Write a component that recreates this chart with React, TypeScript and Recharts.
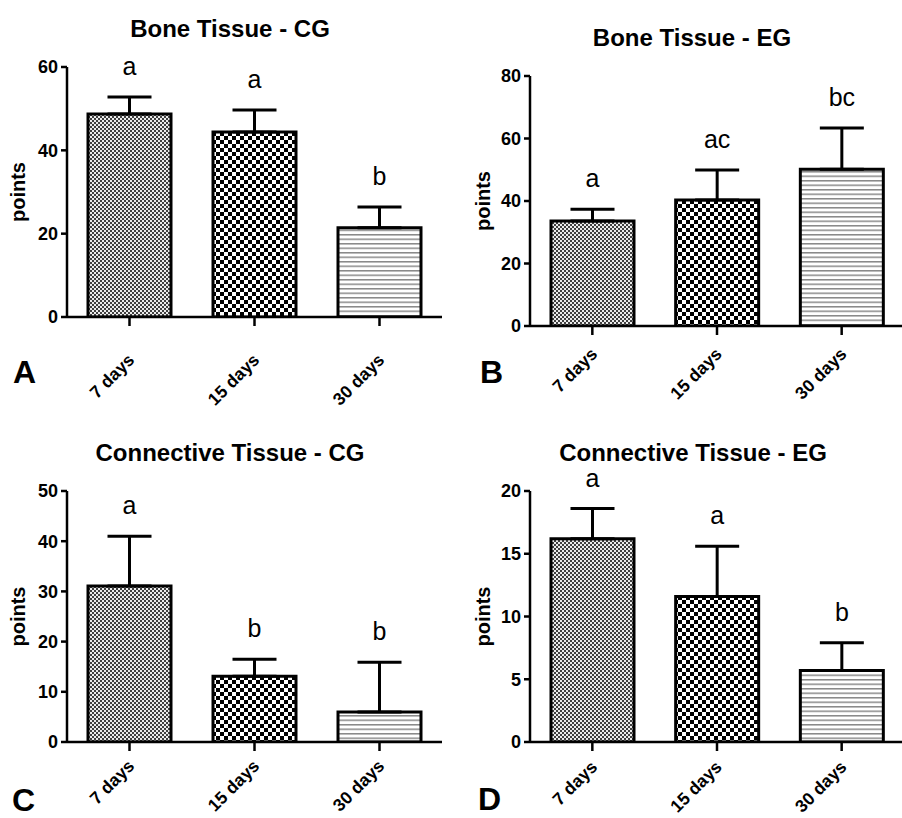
import React from 'react';
import { BarChart, Bar, XAxis, YAxis, ErrorBar, Cell, LabelList } from 'recharts';

const days = ['7 days', '15 days', '30 days'];

const boneCgMean = [48.7, 44.4, 21.4];
const boneCgSd = [4.1, 5.3, 5.0];
const boneCgLetters = ['a', 'a', 'b'];
const boneCgTicks = [0, 20, 40, 60];

const boneEgMean = [33.6, 40.3, 50.2];
const boneEgSd = [3.8, 9.6, 13.2];
const boneEgLetters = ['a', 'ac', 'bc'];
const boneEgTicks = [0, 20, 40, 60, 80];

const connCgMean = [31.1, 13.1, 6.0];
const connCgSd = [9.9, 3.4, 9.9];
const connCgLetters = ['a', 'b', 'b'];
const connCgTicks = [0, 10, 20, 30, 40, 50];

const connEgMean = [16.2, 11.6, 5.7];
const connEgSd = [2.4, 4.0, 2.2];
const connEgLetters = ['a', 'a', 'b'];
const connEgTicks = [0, 5, 10, 15, 20];

const FONT = '"Liberation Sans", Arial, Helvetica, sans-serif';

interface PanelProps {
  id: string;
  tag: string;
  title: string;
  mean: number[];
  sd: number[];
  letters: string[];
  ticks: number[];
  left: number;
  top: number;
  width: number;
  height: number;
  yWidth: number;
  mTop: number;
  mBottom: number;
  mRight: number;
  labelDy: number;
  pointsX: number;
  titleX: number;
  titleY: number;
  tagX: number;
  tagY: number;
}

const Panel = (p: PanelProps) => {
  const data = days.map((d, i) => ({
    day: d,
    mean: p.mean[i],
    err: [0, p.sd[i]],
    letter: p.letters[i],
  }));

  const XTick = (props: any) => {
    const { x, y, payload } = props;
    const px = x + 6;
    const py = y - 9 + p.labelDy;
    return (
      <text
        x={px}
        y={py}
        textAnchor="end"
        transform={`rotate(-45 ${px} ${py})`}
        fontSize={17.5}
        fontWeight="bold"
        fontFamily={FONT}
        fill="#000"
      >
        {payload.value}
      </text>
    );
  };

  const Letter = (props: any) => {
    const vb = props.viewBox || props;
    const { x, y, width, height } = vb;
    const i = props.index;
    const perUnit = height / p.mean[i];
    const errTop = y - p.sd[i] * perUnit;
    return (
      <text x={x + width / 2} y={errTop - 22} textAnchor="middle" fontSize={25} fontFamily={FONT} fill="#000">
        {props.value}
      </text>
    );
  };

  const PointsLabel = (props: any) => {
    const vb = props.viewBox;
    const cx = vb.x + p.pointsX;
    const cy = vb.y + vb.height / 2;
    return (
      <text
        x={cx}
        y={cy}
        textAnchor="middle"
        transform={`rotate(-90 ${cx} ${cy})`}
        fontSize={20}
        fontWeight="bold"
        fontFamily={FONT}
        fill="#000"
      >
        points
      </text>
    );
  };

  return (
    <div style={{ position: 'absolute', left: p.left, top: p.top, width: p.width, height: p.height }}>
      <div
        style={{
          position: 'absolute',
          left: p.titleX - 200,
          width: 400,
          top: p.titleY - 12,
          textAlign: 'center',
          fontFamily: FONT,
          fontWeight: 'bold',
          fontSize: 24,
          lineHeight: 1,
        }}
      >
        {p.title}
      </div>
      <div
        style={{
          position: 'absolute',
          left: p.tagX - 12,
          top: p.tagY - 16,
          fontFamily: FONT,
          fontWeight: 'bold',
          fontSize: 32,
          lineHeight: 1,
        }}
      >
        {p.tag}
      </div>
      <BarChart
        width={p.width}
        height={p.height}
        data={data}
        margin={{ top: p.mTop, right: p.mRight, bottom: p.mBottom, left: 0 }}
      >
        <defs>
          <pattern id={`${p.id}-fine`} width={4} height={4} patternUnits="userSpaceOnUse">
            <rect width={4} height={4} fill="#ececec" />
            <rect x={0} y={0} width={2} height={2} fill="#404040" />
            <rect x={2} y={2} width={2} height={2} fill="#404040" />
          </pattern>
          <pattern id={`${p.id}-coarse`} width={8} height={8} patternUnits="userSpaceOnUse">
            <rect width={8} height={8} fill="#fff" />
            <rect x={0} y={0} width={4} height={4} fill="#000" />
            <rect x={4} y={4} width={4} height={4} fill="#000" />
          </pattern>
          <pattern id={`${p.id}-lines`} width={8} height={4.5} patternUnits="userSpaceOnUse">
            <rect width={8} height={4.5} fill="#fff" />
            <rect x={0} y={0} width={8} height={1.5} fill="#888" />
          </pattern>
        </defs>
        <XAxis
          dataKey="day"
          height={60}
          tickSize={9}
          tickMargin={0}
          axisLine={{ stroke: '#000', strokeWidth: 2.5 }}
          tickLine={{ stroke: '#000', strokeWidth: 2.5 }}
          tick={<XTick />}
          interval={0}
        />
        <YAxis
          width={p.yWidth}
          domain={[p.ticks[0], p.ticks[p.ticks.length - 1]]}
          ticks={p.ticks}
          allowDataOverflow
          tickSize={6}
          tickMargin={3}
          axisLine={{ stroke: '#000', strokeWidth: 2.5 }}
          tickLine={{ stroke: '#000', strokeWidth: 2.5 }}
          tick={{ fill: '#000', fontSize: 18, fontWeight: 'bold', fontFamily: FONT }}
          label={{ content: <PointsLabel /> }}
        />
        <Bar dataKey="mean" barSize={83} stroke="#000" strokeWidth={3} isAnimationActive={false}>
          <Cell fill={`url(#${p.id}-fine)`} />
          <Cell fill={`url(#${p.id}-coarse)`} />
          <Cell fill={`url(#${p.id}-lines)`} />
          <ErrorBar dataKey="err" width={22} stroke="#000" strokeWidth={3} direction="y" />
          <LabelList dataKey="letter" content={<Letter />} />
        </Bar>
      </BarChart>
    </div>
  );
};

export default function App() {
  return (
    <div
      style={{
        position: 'absolute',
        left: 0,
        top: 0,
        width: 902,
        height: 818,
        overflow: 'hidden',
        background: '#fff',
      }}
    >
      <Panel
        id="c"
        tag="C"
        title="Connective Tissue - CG"
        mean={connCgMean}
        sd={connCgSd}
        letters={connCgLetters}
        ticks={connCgTicks}
        left={0}
        top={400}
        width={450}
        height={418}
        yWidth={67}
        mTop={91}
        mBottom={16}
        mRight={8}
        labelDy={25}
        pointsX={25}
        titleX={230}
        titleY={53}
        tagX={24}
        tagY={400}
      />
      <Panel
        id="d"
        tag="D"
        title="Connective Tissue - EG"
        mean={connEgMean}
        sd={connEgSd}
        letters={connEgLetters}
        ticks={connEgTicks}
        left={450}
        top={400}
        width={454}
        height={418}
        yWidth={80}
        mTop={91}
        mBottom={16}
        mRight={0}
        labelDy={26}
        pointsX={40}
        titleX={243}
        titleY={53}
        tagX={40}
        tagY={399}
      />
      <Panel
        id="a"
        tag="A"
        title="Bone Tissue - CG"
        mean={boneCgMean}
        sd={boneCgSd}
        letters={boneCgLetters}
        ticks={boneCgTicks}
        left={0}
        top={0}
        width={450}
        height={425}
        yWidth={67}
        mTop={67}
        mBottom={48}
        mRight={8}
        labelDy={44}
        pointsX={25}
        titleX={230}
        titleY={29}
        tagX={25}
        tagY={372}
      />
      <Panel
        id="b"
        tag="B"
        title="Bone Tissue - EG"
        mean={boneEgMean}
        sd={boneEgSd}
        letters={boneEgLetters}
        ticks={boneEgTicks}
        left={450}
        top={0}
        width={454}
        height={425}
        yWidth={80}
        mTop={76}
        mBottom={39}
        mRight={0}
        labelDy={29}
        pointsX={40}
        titleX={242}
        titleY={38}
        tagX={42}
        tagY={372}
      />
    </div>
  );
}
